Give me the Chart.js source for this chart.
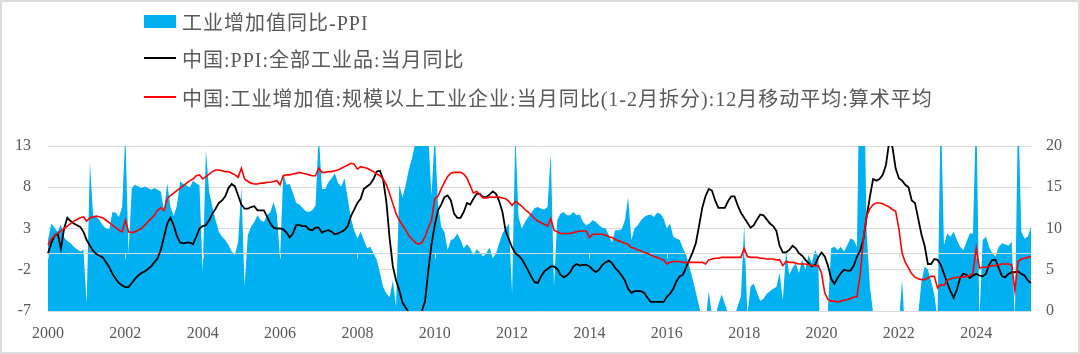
<!DOCTYPE html>
<html lang="zh-CN">
<head>
<meta charset="utf-8">
<title>工业增加值同比-PPI</title>
<script src="https://cdn.jsdelivr.net/npm/chart.js@4.4.1/dist/chart.umd.min.js"></script>
<style>
    html, body { margin: 0; padding: 0; background: #ffffff; }
    #wrap { position: relative; width: 1080px; height: 354px; overflow: hidden; }
    #frame {
        position: absolute; left: 0; top: 0; width: 1076px; height: 350px;
        border: 2px solid #dcdcdc; pointer-events: none;
    }
    #chart { position: absolute; left: 0; top: 0; }
    #legend {
        position: absolute; left: 144px; top: 0;
        font-family: "Liberation Serif", "Noto Sans CJK SC", serif;
        font-size: 20px; letter-spacing: 1px; color: #595959;
    }
    .item { position: absolute; left: 0; height: 24px; display: flex; align-items: center; white-space: nowrap; }
    .swatch { display: inline-block; width: 32px; margin-right: 6px; }
</style>
</head>
<body>
<div id="wrap">
    <canvas id="chart" width="1080" height="354"></canvas>
    <div id="legend"></div>
    <div id="frame"></div>
</div>
<script>
/* ===============================================
   DATA (monthly, 2000-01 .. 2025-06)
   =============================================== */

const seriesNames = [
    '工业增加值同比-PPI',
    '中国:PPI:全部工业品:当月同比',
    '中国:工业增加值:规模以上工业企业:当月同比(1-2月拆分):12月移动平均:算术平均'
];

const yearTicks = ['2000', '2002', '2004', '2006', '2008', '2010', '2012',
                   '2014', '2016', '2018', '2020', '2022', '2024'];

// category labels, one per month
const months = [];
for (let y = 2000; y <= 2025; y++) {
    for (let m = 1; m <= 12; m++) {
        if (y < 2025 || m <= 6) months.push(y + '-' + String(m).padStart(2, '0'));
    }
}

// 工业增加值同比-PPI (right axis, filled)
const diffIvaPpi = [
    8.6, 10.6, 10.1, 9.6, 10.5, 8.9, 8.5, 8.2, 7.8, 7.5, 7.2, 7.4,
    0.9, 17.9, 11.6, 11.4, 11.0, 10.4, 10.0, 9.9, 12.0, 11.9, 11.4, 12.6,
    21.5, 7.0, 14.9, 15.3, 15.1, 14.9, 15.1, 14.9, 14.7, 14.9, 14.7, 14.5,
    12.2, 15.5, 12.6, 11.5, 12.8, 15.7, 15.4, 15.2, 15.0, 15.8, 15.5, 15.2,
    4.6, 19.5, 14.5, 12.6, 11.0, 9.6, 9.0, 8.6, 8.0, 7.2, 6.8, 8.4,
    15.0, 3.0, 9.2, 10.2, 10.8, 11.6, 11.0, 10.8, 11.6, 12.0, 13.2, 11.8,
    6.4, 16.7, 15.3, 15.4, 14.3, 13.1, 12.9, 12.5, 12.1, 12.0, 12.2, 12.8,
    21.5, 14.8, 14.8, 15.6, 16.1, 16.7, 15.5, 15.1, 16.1, 13.6, 11.2, 9.8,
    8.8, 9.6, 8.6, 7.6, 7.8, 7.0, 6.2, 4.6, 2.9, 2.1, 1.7, 3.7,
    0.5, 15.3, 13.8, 15.3, 17.2, 18.6, 20.5, 21.5, 22.0, 22.0, 21.0, 14.0,
    21.5, 13.0, 10.2, 9.6, 7.4, 8.6, 8.8, 9.4, 8.6, 7.6, 8.1, 7.6,
    6.8, 7.5, 7.1, 6.6, 7.0, 7.7, 6.4, 7.0, 8.2, 9.4, 10.0, 10.6,
    2.1, 21.5, 11.4, 10.0, 10.8, 11.4, 11.9, 12.5, 12.6, 12.4, 12.3, 12.6,
    19.1, 2.9, 11.0, 11.8, 12.0, 11.6, 11.6, 12.0, 11.6, 11.7, 10.8, 10.4,
    10.6, 11.0, 10.8, 10.4, 10.1, 10.0, 9.2, 8.3, 9.8, 9.8, 9.9, 11.0,
    13.8, 8.6, 10.0, 10.4, 11.0, 11.4, 11.6, 11.7, 11.4, 11.9, 11.8, 11.2,
    10.0, 10.6, 9.0, 8.8, 8.6, 7.6, 6.8, 5.4, 3.9, 2.3, 0.6, -1.0,
    -1.5, 2.4, -0.5, -0.8, 0.8, 2.0, 0.9, -0.3, -0.3, -0.7, 0.6, 1.8,
    10.4, -0.5, 3.0, 3.3, 2.2, 1.2, 1.5, 2.1, 2.4, 2.7, 2.9, 4.6,
    1.3, 7.2, 4.4, 5.2, 5.8, 4.6, 6.2, 5.0, 6.8, 5.8, 7.4, 6.6,
    -13.6, -13.1, 0.4, 7.6, 7.8, 7.4, 7.8, 7.2, 8.0, 8.8, 8.6, 7.8,
    35.0, 33.0, 9.7, 3.0, -0.2, -0.5, -2.6, -4.2, -7.6, -10.0, -9.1, -6.0,
    -1.6, 3.8, -3.3, -10.9, -5.7, -2.2, -0.4, 3.5, 5.4, 5.0, 3.6, 2.0,
    -1.0, 25.0, 8.0, 9.4, 9.0, 9.6, 8.6, 7.8, 7.4, 8.4, 9.4, 9.4,
    25.0, -1.0, 8.6, 9.0, 7.8, 7.0, 6.6, 7.8, 8.2, 8.1, 7.9, 8.4,
    -1.0, 25.0, 9.6, 8.8, 9.0, 10.2
];

// 中国:PPI:全部工业品:当月同比 (left axis)
const ppiYoy = [
    0.0, 1.2, 2.1, 2.4, 0.6, 3.0, 4.3, 3.9, 3.6, 3.4, 3.2, 2.6,
    1.6, 0.9, 0.3, -0.1, -0.3, -0.5, -1.1, -1.7, -2.5, -3.1, -3.6, -3.9,
    -4.1, -4.1, -3.6, -3.1, -2.7, -2.4, -2.2, -1.9, -1.6, -1.1, -0.6, 0.4,
    2.0, 3.6, 4.3, 3.4, 2.1, 1.3, 1.2, 1.3, 1.3, 1.1, 2.0, 3.0,
    3.3, 3.4, 4.0, 4.8, 5.4, 6.1, 6.4, 6.9, 7.9, 8.4, 8.1, 7.0,
    5.9, 5.4, 5.4, 5.6, 5.7, 5.2, 5.2, 5.2, 4.4, 3.6, 3.1, 3.0,
    3.0, 2.9, 2.5, 1.9, 2.4, 3.4, 3.4, 3.3, 3.3, 2.9, 2.8, 3.1,
    3.1, 2.5, 2.7, 2.8, 2.6, 2.3, 2.4, 2.6, 2.8, 3.3, 4.5, 5.3,
    6.1, 6.6, 7.8, 8.1, 8.4, 9.0, 9.9, 10.0, 8.9, 6.2, 1.8, -1.6,
    -3.3, -4.5, -6.0, -6.6, -7.2, -7.8, -8.2, -7.9, -7.0, -5.8, -2.1, 1.1,
    3.4, 5.2, 5.9, 6.8, 7.0, 6.4, 4.8, 4.3, 4.3, 5.0, 6.1, 5.9,
    6.6, 7.2, 7.2, 6.8, 6.8, 7.1, 7.5, 7.2, 6.3, 5.0, 2.7, 1.7,
    0.7, 0.0, -0.3, -0.7, -1.4, -2.1, -2.9, -3.5, -3.6, -2.8, -2.2, -1.9,
    -1.6, -1.6, -1.9, -2.6, -2.9, -2.7, -2.3, -1.6, -1.3, -1.5, -1.4, -1.4,
    -1.6, -2.0, -2.3, -2.0, -1.4, -1.1, -0.9, -1.2, -1.8, -2.2, -2.7, -3.3,
    -4.3, -4.8, -4.6, -4.6, -4.6, -4.8, -5.4, -5.9, -5.9, -5.9, -5.9, -5.9,
    -5.3, -4.9, -4.3, -3.4, -2.8, -2.6, -1.7, -0.8, 0.1, 1.2, 3.3, 5.5,
    6.9, 7.8, 7.6, 6.4, 5.5, 5.5, 5.5, 6.3, 6.9, 6.9, 5.8, 4.9,
    4.3, 3.7, 3.1, 3.4, 4.1, 4.7, 4.6, 4.1, 3.6, 3.3, 2.7, 0.9,
    0.1, 0.1, 0.4, 0.9, 0.6, 0.0, -0.3, -0.8, -1.2, -1.6, -1.4, -0.5,
    0.1, -0.4, -1.5, -3.1, -3.7, -3.0, -2.4, -2.0, -2.1, -2.1, -1.5, -0.4,
    0.3, 1.7, 4.4, 6.8, 9.0, 8.8, 9.0, 9.5, 10.7, 13.5, 12.9, 10.3,
    9.1, 8.8, 8.3, 8.0, 6.4, 6.1, 4.2, 2.3, 0.9, -1.3, -1.3, -0.7,
    -0.8, -1.4, -2.5, -3.6, -4.6, -5.4, -4.4, -3.0, -2.5, -2.6, -3.0, -2.7,
    -2.5, -2.7, -2.8, -2.5, -1.4, -0.8, -0.8, -1.8, -2.8, -2.9, -2.5, -2.3,
    -2.3, -2.2, -2.5, -2.7, -3.3, -3.6
];

// 工业增加值当月同比 12月移动平均 (right axis)
const ivaYoyMa12 = [
    8.0, 8.7, 9.1, 9.4, 9.7, 10.0, 10.3, 10.6, 10.9, 11.1, 11.3, 11.4,
    10.9, 11.3, 11.4, 11.5, 11.4, 11.3, 11.0, 10.7, 10.4, 10.1, 9.8, 9.6,
    11.0, 9.6, 9.5, 9.6, 9.8, 10.0, 10.4, 10.8, 11.2, 11.6, 12.2, 12.5,
    12.2, 13.6, 14.0, 14.3, 14.6, 14.9, 15.2, 15.5, 15.8, 16.0, 16.4, 16.5,
    16.0, 16.3, 16.6, 16.9, 17.1, 17.1, 17.0, 16.9, 16.9, 16.7, 16.5, 16.2,
    17.3, 16.0, 15.7, 15.5, 15.4, 15.4, 15.5, 15.5, 15.6, 15.6, 15.7, 15.8,
    15.3, 16.4, 16.5, 16.5, 16.6, 16.7, 16.8, 16.7, 16.6, 16.5, 16.4, 16.4,
    17.3, 16.8, 16.8, 16.9, 16.9, 17.0, 17.1, 17.3, 17.5, 17.7, 17.9, 17.8,
    17.2, 17.5, 17.4, 17.3, 17.1, 16.9, 16.6, 16.4, 16.0, 15.3, 14.2, 13.0,
    11.8, 11.0, 10.4, 9.8, 9.1, 8.7, 8.3, 8.1, 8.3, 9.0, 10.1, 11.0,
    13.6, 13.9, 14.8, 15.6, 16.3, 16.7, 16.8, 16.8, 16.8, 16.6, 16.1, 15.2,
    14.3, 14.5, 14.1, 13.7, 13.7, 13.8, 13.8, 13.8, 13.8, 13.7, 13.6, 13.3,
    12.8, 13.3, 13.0, 12.7, 12.3, 12.0, 11.6, 11.2, 10.9, 10.7, 10.5, 10.3,
    11.2, 9.8, 9.6, 9.4, 9.4, 9.4, 9.4, 9.5, 9.6, 9.7, 9.7, 9.7,
    8.9, 9.3, 9.3, 9.3, 9.3, 9.2, 9.0, 8.9, 8.7, 8.5, 8.4, 8.2,
    8.1, 7.7, 7.6, 7.4, 7.3, 7.1, 7.0, 6.8, 6.6, 6.5, 6.3, 6.2,
    5.7, 5.9, 6.0, 6.0, 6.0, 5.9, 5.9, 5.9, 5.9, 5.9, 5.9, 5.9,
    5.7, 6.2, 6.3, 6.4, 6.4, 6.5, 6.5, 6.5, 6.5, 6.5, 6.5, 6.5,
    7.6, 6.6, 6.5, 6.5, 6.5, 6.4, 6.4, 6.3, 6.3, 6.3, 6.2, 6.2,
    5.5, 6.0, 5.9, 5.9, 5.8, 5.7, 5.7, 5.7, 5.6, 5.5, 5.5, 5.5,
    4.6, 2.2, 1.4, 1.2, 1.2, 1.1, 1.2, 1.3, 1.4, 1.5, 1.7, 1.7,
    4.4, 8.8, 11.5, 12.4, 12.9, 13.1, 13.1, 13.0, 12.8, 12.6, 12.3, 12.1,
    10.0, 7.0, 5.9, 5.2, 4.5, 4.1, 3.9, 3.8, 3.8, 4.0, 4.2, 4.2,
    2.8, 3.2, 3.1, 3.7, 3.9, 4.0, 4.1, 4.1, 4.1, 4.2, 4.3, 4.6,
    7.6, 5.2, 5.3, 5.3, 5.4, 5.5, 5.5, 5.6, 5.7, 5.7, 5.7, 5.6,
    2.5, 6.0, 6.3, 6.4, 6.5, 6.6
];

/* ===============================================
   CHART
   =============================================== */

const TEXT_GREY = '#595959';
const GRID_GREY = '#d9d9d9';
const tickFont = { family: "'Liberation Serif', serif", size: 16 };

// zero line of the left axis with year tick marks, drawn over the filled area
const zeroAxisLine = {
    id: 'zeroAxisLine',
    afterDatasetDraw(chart, args) {
        if (args.index !== 0) return;
        const { ctx, chartArea, scales } = chart;
        const y0 = Math.round(scales.y.getPixelForValue(0)) + 0.5;
        ctx.save();
        ctx.strokeStyle = GRID_GREY;
        ctx.lineWidth = 1;
        ctx.beginPath();
        ctx.moveTo(chartArea.left, y0);
        ctx.lineTo(chartArea.right, y0);
        for (let i = 0; i < months.length; i += 24) {
            const x = Math.round(scales.x.getPixelForValue(i)) + 0.5;
            ctx.moveTo(x, y0);
            ctx.lineTo(x, y0 + 5);
        }
        ctx.stroke();
        ctx.restore();
    }
};

const chart = new Chart(document.getElementById('chart'), {
    type: 'line',
    data: {
        labels: months,
        datasets: [
            {
                label: seriesNames[0],
                data: diffIvaPpi,
                yAxisID: 'y1',
                fill: 'origin',
                backgroundColor: '#00b0f0',
                borderWidth: 0,
                pointRadius: 0,
                order: 3
            },
            {
                label: seriesNames[1],
                data: ppiYoy,
                yAxisID: 'y',
                fill: false,
                borderColor: '#000000',
                borderWidth: 1.8,
                pointRadius: 0,
                order: 2
            },
            {
                label: seriesNames[2],
                data: ivaYoyMa12,
                yAxisID: 'y1',
                fill: false,
                borderColor: '#ff0000',
                borderWidth: 1.6,
                pointRadius: 0,
                order: 1
            }
        ]
    },
    options: {
        responsive: false,
        animation: false,
        layout: { padding: { top: 146, left: 0, right: 0, bottom: 0 } },
        plugins: {
            legend: { display: false },
            tooltip: { enabled: false }
        },
        scales: {
            x: {
                type: 'category',
                grid: { display: false, drawTicks: false },
                border: { display: false },
                ticks: {
                    autoSkip: false,
                    maxRotation: 0,
                    padding: 13,
                    color: TEXT_GREY,
                    font: tickFont,
                    callback: (value, index) => (index % 24 === 0 ? yearTicks[index / 24] : null)
                },
                afterFit: scale => { scale.height = 43; }
            },
            y: {
                position: 'left',
                min: -7,
                max: 13,
                grid: { color: GRID_GREY, lineWidth: 1, drawTicks: false },
                border: { display: false },
                ticks: { stepSize: 5, padding: 17, color: TEXT_GREY, font: tickFont },
                afterFit: scale => { scale.width = 48; }
            },
            y1: {
                position: 'right',
                min: 0,
                max: 20,
                grid: { display: false, drawTicks: false },
                border: { display: false },
                ticks: { stepSize: 5, padding: 15, color: TEXT_GREY, font: tickFont },
                afterFit: scale => { scale.width = 49; }
            }
        }
    },
    plugins: [zeroAxisLine]
});

// HTML legend built from the datasets
const legendEl = document.getElementById('legend');
const rowCenters = [21, 58, 97];
chart.data.datasets.forEach((ds, i) => {
    const item = document.createElement('div');
    item.className = 'item';
    item.style.top = (rowCenters[i] - 12) + 'px';
    const sw = document.createElement('span');
    sw.className = 'swatch';
    if (i === 0) {
        sw.style.height = '13px';
        sw.style.background = ds.backgroundColor;
    } else {
        sw.style.height = '2px';
        sw.style.background = ds.borderColor;
    }
    const txt = document.createElement('span');
    txt.textContent = ds.label;
    item.appendChild(sw);
    item.appendChild(txt);
    legendEl.appendChild(item);
});
</script>
</body>
</html>
